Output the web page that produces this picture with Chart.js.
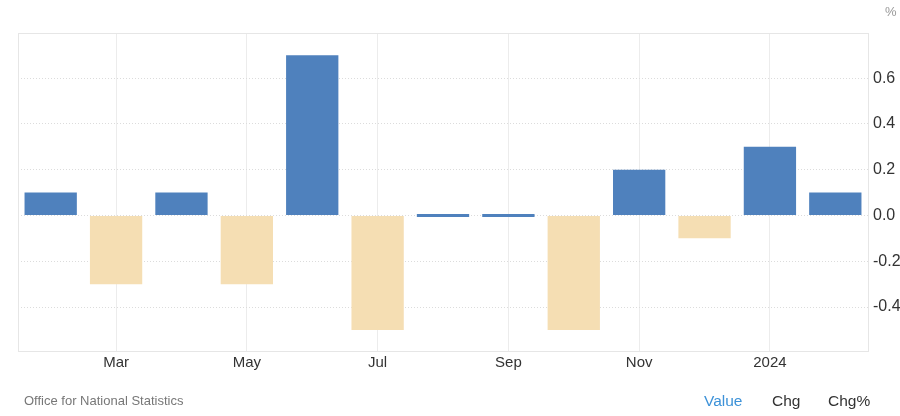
<!DOCTYPE html>
<html>
<head>
<meta charset="utf-8">
<script src="https://cdn.jsdelivr.net/npm/chart.js"></script>
<style>
  body { margin: 0; background: #fff; font-family: "Liberation Sans", Arial, sans-serif; }
  #wrap { position: relative; width: 900px; height: 416px; }
  #pct { position: absolute; left: 885px; top: 4px; font-size: 13px; color: #999; }
  #src { position: absolute; left: 24px; top: 393px; font-size: 13px; color: #777; }
  .tab { position: absolute; top: 392px; font-size: 15.5px; color: #333; }
  .tab.on { color: #3d92d8; }
</style>
</head>
<body>
<div id="wrap">
  <canvas id="grafico" width="900" height="416"></canvas>
  <div id="pct">%</div>
  <div id="src">Office for National Statistics</div>
  <div class="tab on" style="left:704px">Value</div>
  <div class="tab" style="left:772px">Chg</div>
  <div class="tab" style="left:828px">Chg%</div>
</div>
<script>
const meses = ['Feb', 'Mar', 'Apr', 'May', 'Jun', 'Jul', 'Aug', 'Sep', 'Oct', 'Nov', 'Dec', '2024', 'Feb'];
const valores = [0.1, -0.3, 0.1, -0.3, 0.7, -0.5, 0, 0, -0.5, 0.2, -0.1, 0.3, 0.1];
const ticksY = [-0.4, -0.2, 0, 0.2, 0.4, 0.6];

const corPos = '#4f81bd';
const corNeg = '#f5deb3';

// borda do plot
const bordaPlot = {
  id: 'bordaPlot',
  beforeDatasetsDraw(chart) {
    const a = chart.chartArea, ctx = chart.ctx;
    ctx.save();
    ctx.strokeStyle = '#e6e6e6';
    ctx.lineWidth = 1;
    ctx.strokeRect(Math.round(a.left) + 0.5, Math.round(a.top) + 0.5, Math.round(a.right - a.left), Math.round(a.bottom - a.top));
    ctx.restore();
  }
};

new Chart(document.getElementById('grafico'), {
  type: 'bar',
  data: {
    labels: meses,
    datasets: [{
      data: valores,
      backgroundColor: valores.map(v => v < 0 ? corNeg : corPos),
      barPercentage: 1,
      categoryPercentage: 0.8,
      minBarLength: 3
    }]
  },
  plugins: [bordaPlot],
  options: {
    responsive: false,
    animation: false,
    layout: { padding: { left: 18, top: 33, right: 0, bottom: 45 } },
    plugins: { legend: { display: false }, tooltip: { enabled: false } },
    scales: {
      x: {
        grid: {
          offset: false,
          drawTicks: false,
          color: ctx => ctx.index % 2 === 1 ? '#ececec' : 'rgba(0,0,0,0)'
        },
        border: { display: false },
        ticks: {
          autoSkip: false,
          maxRotation: 0,
          padding: 3,
          color: '#333',
          font: { family: 'Liberation Sans', size: 15 },
          callback: (v, i) => i % 2 === 1 ? meses[i] : ''
        },
        afterFit: s => { s.height = 20; }
      },
      y: {
        position: 'right',
        min: -0.592,
        max: 0.797,
        afterBuildTicks: s => { s.ticks = ticksY.map(v => ({ value: v })); },
        grid: { drawTicks: false, color: '#dcdcdc' },
        border: { display: false, dash: [1, 2] },
        ticks: {
          padding: 5,
          color: '#333',
          font: { family: 'Liberation Sans', size: 16 },
          callback: v => v.toFixed(1)
        },
        afterFit: s => { s.width = 32; }
      }
    }
  }
});
</script>
</body>
</html>
